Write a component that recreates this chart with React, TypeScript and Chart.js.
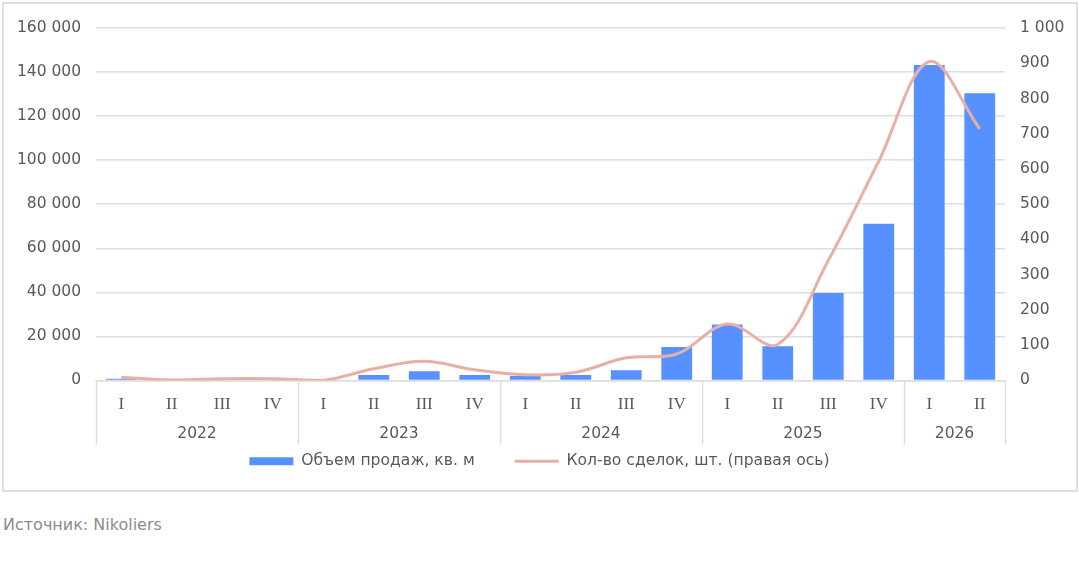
import React, { useEffect, useRef } from 'react';
import { Chart, registerables } from 'chart.js';

Chart.register(...registerables);

const quarters = ['I', 'II', 'III', 'IV', 'I', 'II', 'III', 'IV', 'I', 'II', 'III', 'IV', 'I', 'II', 'III', 'IV', 'I', 'II'];
const years = ['2022', '2023', '2024', '2025', '2026'];
const yearSizes = [4, 4, 4, 4, 2];

const salesArea = [700, 0, 0, 0, 0, 2400, 4200, 2400, 2000, 2400, 4600, 15200, 25400, 15500, 39700, 71100, 143200, 130400];
const dealCount = [9, 1, 5, 5, 0, 33, 54, 30, 16, 23, 64, 75, 160, 102, 340, 622, 905, 714];

const leftTickMax = 160000;
const leftTickStep = 20000;
const rightTickMax = 1000;
const rightTickStep = 100;

const barColor = '#5791FF';
const lineColor = '#E8AFA5';
const gridColor = '#DEDEDE';
const textColor = '#595959';
const sansFont = "'DejaVu Sans', Verdana, sans-serif";

const fmt = (v: number) => String(v).replace(/\B(?=(\d{3})+(?!\d))/g, ' ');

// draws the year row and group separators under the quarter labels
const yearGroups = {
    id: 'yearGroups',
    afterDraw(chart: any) {
        const x = chart.scales.x;
        const ctx = chart.ctx;
        const bottom = chart.chartArea.bottom;
        const step = (x.right - x.left) / quarters.length;
        ctx.save();
        ctx.strokeStyle = gridColor;
        ctx.lineWidth = 1.5;
        ctx.font = `15.5px ${sansFont}`;
        ctx.fillStyle = textColor;
        ctx.textAlign = 'center';
        ctx.textBaseline = 'middle';
        let start = 0;
        for (let g = 0; g <= years.length; g++) {
            const px = Math.round(x.getPixelForValue(start) - step / 2) + 0.5;
            ctx.beginPath();
            ctx.moveTo(px, bottom);
            ctx.lineTo(px, bottom + 64);
            ctx.stroke();
            if (g < years.length) {
                const end = start + yearSizes[g];
                const cx = (x.getPixelForValue(start) + x.getPixelForValue(end - 1)) / 2;
                ctx.fillText(years[g], cx, bottom + 54);
                start = end;
            }
        }
        ctx.restore();
    },
};

export default function App() {
    const chartRef = useRef<HTMLCanvasElement>(null);
    const chartInstance = useRef<Chart | null>(null);

    useEffect(() => {
        document.body.style.margin = '0';
        if (!chartRef.current) return;
        if (chartInstance.current) chartInstance.current.destroy();

        chartInstance.current = new Chart(chartRef.current, {
            type: 'bar',
            data: {
                labels: quarters,
                datasets: [
                    {
                        type: 'bar',
                        label: 'Объем продаж, кв. м',
                        data: salesArea,
                        backgroundColor: barColor,
                        borderWidth: 0,
                        yAxisID: 'y',
                        categoryPercentage: 1,
                        barPercentage: 0.61,
                        order: 1,
                    },
                    {
                        type: 'line',
                        label: 'Кол-во сделок, шт. (правая ось)',
                        data: dealCount,
                        borderColor: lineColor,
                        backgroundColor: lineColor,
                        borderWidth: 3,
                        pointRadius: 0,
                        tension: 0.35,
                        yAxisID: 'y1',
                        order: 0,
                    },
                ],
            },
            options: {
                responsive: true,
                maintainAspectRatio: false,
                animation: false,
                layout: { padding: { top: 28, bottom: 0, left: 0, right: 0 } },
                plugins: {
                    tooltip: { enabled: false },
                    legend: {
                        position: 'bottom',
                        labels: {
                            usePointStyle: true,
                            pointStyleWidth: 44,
                            boxHeight: 8,
                            padding: 40,
                            color: textColor,
                            font: { family: sansFont, size: 15.6 },
                            sort: (a: any, b: any) => a.datasetIndex - b.datasetIndex,
                            generateLabels: (chart: any) => {
                                const items = Chart.defaults.plugins.legend.labels.generateLabels(chart);
                                return items.map((it: any) => ({
                                    ...it,
                                    pointStyle: it.datasetIndex === 0 ? 'rect' : 'line',
                                    lineWidth: it.datasetIndex === 0 ? 0 : 3,
                                    strokeStyle: it.datasetIndex === 0 ? barColor : lineColor,
                                }));
                            },
                        },
                    },
                },
                scales: {
                    x: {
                        afterFit: (scale: any) => { scale.height = 33; },
                        grid: { display: false, drawTicks: false },
                        border: { display: true, color: gridColor, width: 1.5 },
                        ticks: {
                            color: textColor,
                            font: { family: "'Liberation Serif', serif", size: 17 },
                            padding: 14,
                            maxRotation: 0,
                            autoSkip: false,
                        },
                    },
                    y: {
                        position: 'left',
                        min: 0,
                        max: leftTickMax,
                        afterFit: (scale: any) => { scale.width = 96; },
                        grid: { color: gridColor, lineWidth: 1.5, drawTicks: false },
                        border: { display: false },
                        ticks: {
                            stepSize: leftTickStep,
                            color: textColor,
                            font: { family: sansFont, size: 15.5 },
                            padding: 15,
                            callback: (v: any) => fmt(Number(v)),
                        },
                    },
                    y1: {
                        position: 'right',
                        min: 0,
                        max: rightTickMax,
                        afterFit: (scale: any) => { scale.width = 74; },
                        grid: { display: false, drawTicks: false },
                        border: { display: false },
                        ticks: {
                            stepSize: rightTickStep,
                            color: textColor,
                            font: { family: sansFont, size: 15.5 },
                            padding: 15,
                            callback: (v: any) => fmt(Number(v)),
                        },
                    },
                },
            } as any,
            plugins: [yearGroups],
        });

        return () => {
            if (chartInstance.current) {
                chartInstance.current.destroy();
                chartInstance.current = null;
            }
        };
    }, []);

    return (
        <div style={{ position: 'relative', width: 1079, height: 567, background: '#fff' }}>
            <div style={{ position: 'absolute', left: 2, top: 2, width: 1072, height: 486, border: '2px solid #DEDEDE' }} />
            <div style={{ position: 'absolute', left: 0, top: 0, width: 1079, height: 479 }}>
                <canvas ref={chartRef}></canvas>
            </div>
            <div style={{ position: 'absolute', left: 3, top: 515, fontFamily: sansFont, fontSize: 16, color: '#8C8C8C' }}>
                Источник: Nikoliers
            </div>
        </div>
    );
}
